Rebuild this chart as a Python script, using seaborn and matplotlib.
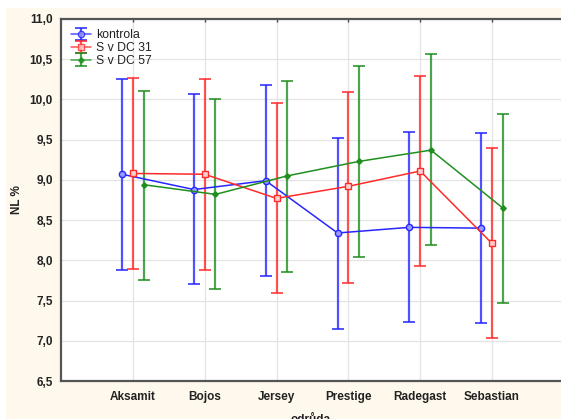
import numpy as np
import pandas as pd
import matplotlib
matplotlib.use("Agg")
import matplotlib.pyplot as plt
from matplotlib.patches import Rectangle
from matplotlib.ticker import FuncFormatter, MultipleLocator
import seaborn as sns

categories = ["Aksamit", "Bojos", "Jersey", "Prestige", "Radegast", "Sebastian"]
groups = ["kontrola", "S v DC 31", "S v DC 57"]

kontrola_mean = [9.07, 8.88, 8.99, 8.34, 8.41, 8.40]
kontrola_low = [7.88, 7.70, 7.81, 7.15, 7.23, 7.22]
kontrola_high = [10.26, 10.07, 10.18, 9.52, 9.59, 9.58]

dc31_mean = [9.08, 9.07, 8.77, 8.92, 9.11, 8.21]
dc31_low = [7.89, 7.88, 7.59, 7.72, 7.93, 7.03]
dc31_high = [10.27, 10.25, 9.95, 10.09, 10.29, 9.40]

dc57_mean = [8.94, 8.82, 9.05, 9.23, 9.37, 8.65]
dc57_low = [7.75, 7.64, 7.86, 8.04, 8.19, 7.47]
dc57_high = [10.11, 10.00, 10.23, 10.41, 10.56, 9.82]

means = [kontrola_mean, dc31_mean, dc57_mean]
lows = [kontrola_low, dc31_low, dc57_low]
highs = [kontrola_high, dc31_high, dc57_high]

colors = ["#2626ff", "#ff2a2a", "#1f8f1f"]
markers = ["o", "s", "D"]
msizes = [4.5, 4.5, 2.8]
mfaces = ["#9a9aff", "#ffd0d0", "#1f8f1f"]
offsets = [-0.15, 0.0, 0.15]

sns.set_theme(style="white")
plt.rcParams["font.family"] = ["Liberation Sans", "DejaVu Sans"]

FS = 8.5

fig = plt.figure(figsize=(5.61, 4.19), dpi=100)
fig.patch.set_facecolor("white")
fig.patches.append(Rectangle((6 / 561, 0), 1, 1 - 8 / 419, transform=fig.transFigure,
                             facecolor="#fef9ec", edgecolor="none", zorder=-10))
ax = fig.add_axes([61 / 561, 38 / 419, 500 / 561, 362 / 419])
ax.set_facecolor("white")

idx = np.arange(len(categories))
containers = []
for g, m, lo, hi, c, mk, ms, mf, off in zip(groups, means, lows, highs, colors, markers,
                                             msizes, mfaces, offsets):
    x = idx + off
    m = np.array(m)
    lo = np.array(lo)
    hi = np.array(hi)
    df = pd.DataFrame({"x": x, "y": m})
    sns.lineplot(data=df, x="x", y="y", ax=ax, color=c, lw=1.1, marker=mk,
                 markersize=ms, markerfacecolor=mf, markeredgecolor=c,
                 markeredgewidth=1.0, legend=False, zorder=4)
    cont = ax.errorbar(x, m, yerr=[m - lo, hi - m], color=c, ecolor=c, elinewidth=1.6,
                       capsize=4, capthick=1.4, lw=1.1, marker=mk, markersize=ms,
                       markerfacecolor=mf, markeredgecolor=c, alpha=0.8,
                       label=g, zorder=3)
    containers.append(cont)

ax.set_xlim(-1, 5.96)
ax.set_ylim(6.5, 11.0)
ax.set_xticks(idx)
ax.set_xticklabels(categories, fontweight="bold", fontsize=FS, color="#222222")
ax.yaxis.set_major_locator(MultipleLocator(0.5))
ax.yaxis.set_major_formatter(FuncFormatter(lambda v, p: f"{v:.1f}".replace(".", ",")))

ax.grid(True, color="#e3e3e3", lw=0.9)
ax.set_axisbelow(True)
for s in ["left", "top", "bottom"]:
    ax.spines[s].set_color("#555555")
    ax.spines[s].set_linewidth(1.6)
ax.spines["right"].set_visible(False)
ax.tick_params(axis="both", direction="in", length=2.5, width=1, color="#444444",
               pad=6, labelsize=FS, labelcolor="#222222")
ax.tick_params(axis="x", top=True, pad=7)
for t in ax.get_yticklabels() + ax.get_xticklabels():
    t.set_fontweight("bold")

ax.set_ylabel("NL %", fontweight="bold", fontsize=FS, color="#222222")
ax.yaxis.set_label_coords(-0.076, 0.5)
ax.set_xlabel("odrůda", fontweight="bold", fontsize=FS, color="#222222")
ax.xaxis.set_label_coords(0.5, -0.09)
ax.xaxis.label.set_va("top")

leg = ax.legend(loc="upper left", bbox_to_anchor=(0.0, 1.0), frameon=False,
                fontsize=FS + 0.3, handlelength=1.6, handletextpad=0.45, labelspacing=0.05,
                handleheight=0.6, borderaxespad=0.4, borderpad=0.45)
for t in leg.get_texts():
    t.set_color("#222222")

for cont in containers:
    cont[0].set_visible(False)

fig.savefig("out.png", dpi=100)
